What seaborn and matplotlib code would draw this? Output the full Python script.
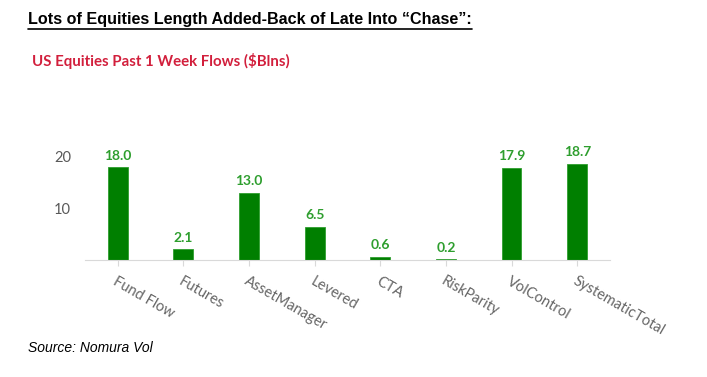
import pandas as pd
import matplotlib.pyplot as plt
import seaborn as sns

# chart data
categories = ['Fund Flow', 'Futures', 'AssetManager', 'Levered', 'CTA',
              'RiskParity', 'VolControl', 'SystematicTotal']
flows = [18.0, 2.1, 13.0, 6.5, 0.6, 0.2, 17.9, 18.7]
y_ticks = [10, 20]

df = pd.DataFrame({'Category': categories, 'Flow': flows})

sns.set_style('white')
plt.rcParams['font.family'] = ['Lato', 'DejaVu Sans']

fig = plt.figure(figsize=(7.07, 3.77), dpi=100)
ax = fig.add_axes([0.120, 0.310, 0.743, 0.315])

sns.barplot(data=df, x='Category', y='Flow', color='#007F00', width=0.3,
            edgecolor='#2E9E2E', linewidth=0.6, saturation=1, ax=ax)

# value labels above bars
for p, v in zip(ax.patches, flows):
    ax.annotate(f'{v:.1f}', (p.get_x() + p.get_width() / 2, p.get_height()),
                xytext=(0, 4), textcoords='offset points', ha='center', va='bottom',
                color='#2E9E2E', fontsize=10, fontweight='bold')

ax.set_ylim(0, 23)
ax.set_xlim(-0.5, len(categories) - 0.5)
ax.set_yticks(y_ticks)
ax.set_xlabel('')
ax.set_ylabel('')
for s in ['top', 'right', 'left']:
    ax.spines[s].set_visible(False)
ax.spines['bottom'].set_color('#D9D9D9')
ax.tick_params(axis='y', length=0, pad=10, labelsize=10.5, labelcolor='#595959')
ax.tick_params(axis='x', length=4, color='#D9D9D9', width=0.8, bottom=True,
               pad=6, labelsize=10.5, labelcolor='#666666')
plt.setp(ax.get_xticklabels(), rotation=-30, ha='left', rotation_mode='anchor')

# headline with underline
title = fig.text(0.040, 0.968, 'Lots of Equities Length Added-Back of Late Into \u201cChase\u201d:',
                 family=['Liberation Sans', 'DejaVu Sans'], fontsize=11.6,
                 fontweight='bold', color='black', va='top')
fig.canvas.draw()
bb = title.get_window_extent().transformed(fig.transFigure.inverted())
fig.add_artist(plt.Line2D([bb.x0, bb.x1], [bb.y0 - 0.004, bb.y0 - 0.004],
                          transform=fig.transFigure, color='black', lw=1.2))

fig.text(0.045, 0.860, 'US Equities Past 1 Week Flows ($Blns)', fontsize=10.8,
         fontweight='bold', color='#D21F3C', va='top')

fig.text(0.040, 0.065, 'Source: Nomura Vol', family=['Liberation Sans', 'DejaVu Sans'],
         fontsize=10, style='italic', color='black')

plt.savefig('out.png', dpi=100)
